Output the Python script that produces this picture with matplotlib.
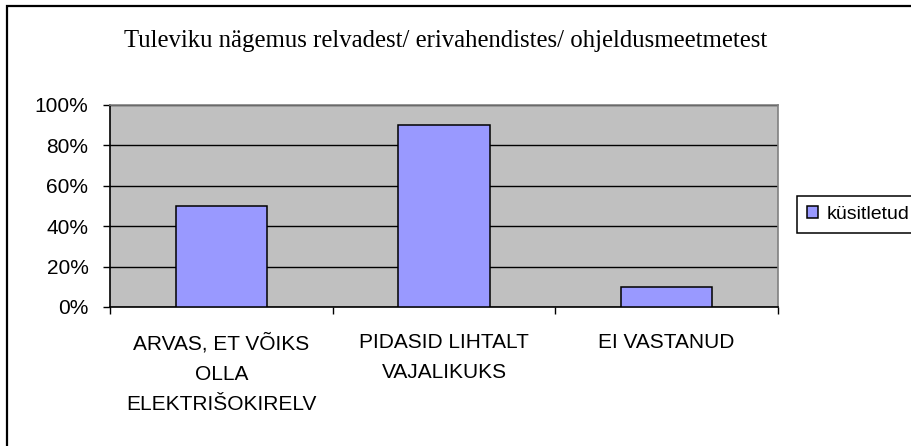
import numpy as np
import matplotlib
matplotlib.use('Agg')
import matplotlib.pyplot as plt
from matplotlib.patches import Rectangle
from matplotlib.ticker import PercentFormatter

# data
categories = ['ARVAS, ET VÕIKS\nOLLA\nELEKTRIŠOKIRELV',
              'PIDASID LIHTALT\nVAJALIKUKS',
              'EI VASTANUD']
values = [0.50, 0.90, 0.10]
series_name = 'küsitletud'
title = 'Tuleviku nägemus relvadest/ erivahendistes/ ohjeldusmeetmetest'
yticks = [0, 0.2, 0.4, 0.6, 0.8, 1.0]

W, H = 911, 446
plt.rcParams['font.family'] = ['Liberation Sans', 'DejaVu Sans']

fig = plt.figure(figsize=(W / 100, H / 100), dpi=100)
fig.patch.set_facecolor('white')

# outer chart border (right/bottom edges fall outside the image)
fig.patches.append(Rectangle((7 / W, -0.1), 1.2, 1.1 - 6 / H,
                             transform=fig.transFigure, fill=False,
                             edgecolor='black', linewidth=1.6))

left, right, top, bottom = 110, 778, 105, 307
ax = fig.add_axes([left / W, 1 - bottom / H, (right - left) / W, (bottom - top) / H])
ax.set_facecolor('#C0C0C0')

x = np.arange(len(categories))
bars = ax.bar(x, values, width=0.41, color='#9999FF', edgecolor='black',
              linewidth=1.1, label=series_name, zorder=3)

ax.set_xlim(-0.5, len(categories) - 0.5)
ax.set_ylim(0, 1)
ax.set_yticks(yticks)
ax.yaxis.set_major_formatter(PercentFormatter(xmax=1, decimals=0))
ax.yaxis.grid(True, color='black', linewidth=1.0, zorder=1)
ax.set_axisbelow(True)

ax.set_xticks(x)
ax.set_xticklabels(categories, fontsize=15, linespacing=1.72)
ax.set_xticks(np.arange(len(categories) + 1) - 0.5, minor=True)
ax.tick_params(axis='x', which='major', length=0, pad=19)
ax.tick_params(axis='x', which='minor', length=5, width=1, direction='out')
ax.tick_params(axis='y', length=5, width=1, direction='out', pad=10.5, labelsize=15)

for s in ['top', 'right']:
    ax.spines[s].set_color('#808080')
    ax.spines[s].set_linewidth(1.2)
for s in ['left', 'bottom']:
    ax.spines[s].set_color('black')
    ax.spines[s].set_linewidth(1.2)

fig.text(446 / W, 1 - 47 / H, title, ha='center', va='baseline',
         fontsize=17.8, family=['Liberation Serif', 'DejaVu Serif'])

leg = ax.legend(loc='center left', bbox_to_anchor=(797 / W, 1 - 214.5 / H),
                bbox_transform=fig.transFigure, borderaxespad=0, fontsize=14,
                fancybox=False, framealpha=1, edgecolor='black',
                handlelength=0.6, handleheight=0.6, handletextpad=0.4,
                borderpad=0.5)
leg.get_frame().set_linewidth(1.1)

fig.savefig('out.png', dpi=100)
